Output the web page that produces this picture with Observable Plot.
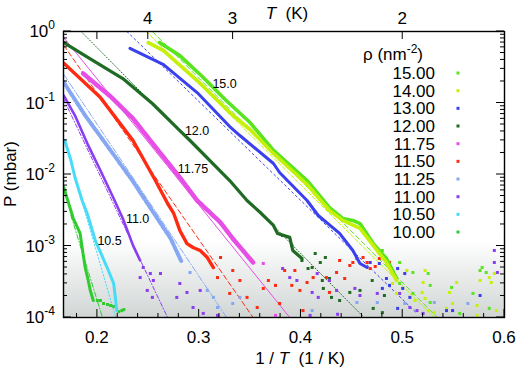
<!DOCTYPE html>
<html><head><meta charset="utf-8">
<script src="https://cdn.jsdelivr.net/npm/d3@7"></script>
<script src="https://cdn.jsdelivr.net/npm/@observablehq/plot@0.6"></script>
<style>
body{margin:0;background:#fff;}
#chart{width:516px;height:372px;}
#chart svg{font-family:"Liberation Sans",Arial,Helvetica,sans-serif;}
</style></head><body><div id="chart"></div>
<script>
// ---- axes / scales ----
const xDomain = [0.1667, 0.6];
const yDomain = [1e-4, 1];
const xMajorTicks = [0.2, 0.3, 0.4, 0.5, 0.6];
const xMajorLabels = ["0.2", "0.3", "0.4", "0.5", "0.6"];
const xMinorTicks = [0.18,0.22,0.24,0.26,0.28,0.32,0.34,0.36,0.38,0.42,0.44,0.46,0.48,0.52,0.54,0.56,0.58];
const yDecades = [1, 0.1, 0.01, 0.001, 0.0001];
const yExponents = ["0", "-1", "-2", "-3", "-4"];
const tTicks = [5, 4, 3, 2];
const tLabels = ["", "4", "3", "2"];
const greyBand = [1e-4, 1.2e-3];

// ---- series ----
const rhoLabels = ["15.00","14.00","13.00","12.00","11.75","11.50","11.25","11.00","10.50","10.00"];

const curve1500 = [[0.261,0.70],[0.281,0.46],[0.303,0.235],[0.326,0.110],[0.350,0.0533],[0.373,0.0217],[0.406,0.00824],[0.428,0.00345],[0.441,0.00243],[0.451,0.00228],[0.458,0.00206],[0.471,0.00108],[0.484,0.000668],[0.494,0.000351]];
const curve1400 = [[0.250,0.70],[0.265,0.54],[0.298,0.206],[0.330,0.0736],[0.350,0.0426],[0.373,0.0197],[0.406,0.00725],[0.428,0.00314],[0.441,0.00228],[0.458,0.00176],[0.471,0.00102],[0.484,0.000588],[0.494,0.000329]];
const curve1300 = [[0.232,0.58],[0.265,0.345],[0.298,0.140],[0.330,0.0469],[0.340,0.0351],[0.373,0.01425],[0.379,0.01067],[0.406,0.00433],[0.417,0.00267],[0.438,0.00150],[0.451,0.000865],[0.458,0.000569],[0.465,0.000500]];
const curve1200 = [[0.167,0.70],[0.191,0.43],[0.225,0.220],[0.254,0.0984],[0.281,0.0412],[0.291,0.0299],[0.330,0.00824],[0.347,0.00433],[0.360,0.00294],[0.373,0.00194],[0.377,0.00150],[0.389,0.00132],[0.392,0.000865],[0.401,0.000668]];
const curve1175 = [[0.186,0.259],[0.213,0.123],[0.235,0.0607],[0.252,0.0299],[0.281,0.00908],[0.298,0.00433],[0.321,0.00213],[0.333,0.00127],[0.343,0.000865],[0.353,0.000588]];
const curve1150 = [[0.167,0.36],[0.203,0.119],[0.235,0.0299],[0.257,0.00824],[0.269,0.00393],[0.275,0.00285],[0.281,0.00165],[0.288,0.00108],[0.294,0.000953],[0.301,0.000865],[0.308,0.000690],[0.314,0.000500]];
const curve1125 = [[0.167,0.194],[0.188,0.0668],[0.213,0.0217],[0.235,0.00798],[0.255,0.00294],[0.272,0.00127],[0.283,0.000588]];
const curve1100 = [[0.167,0.127],[0.178,0.0668],[0.191,0.0255],[0.203,0.01138],[0.216,0.00462],[0.225,0.00243],[0.235,0.00102],[0.242,0.000627]];
const curve1050 = [[0.168,0.0299],[0.174,0.0157],[0.178,0.00908],[0.185,0.00433],[0.190,0.00285],[0.198,0.00119],[0.210,0.000484],[0.216,0.000299],[0.218,0.000173],[0.219,0.000125]];
const curve1000 = [[0.167,0.00658],[0.176,0.00250],[0.183,0.00150],[0.185,0.000953],[0.188,0.000500],[0.191,0.000329],[0.193,0.000239],[0.196,0.000173]];

const noise1500 = [[0.480,0.000865],[0.497,0.000588],[0.510,0.000426],[0.525,0.000412],[0.527,0.000281],[0.510,0.000217],[0.527,0.000162],[0.548,0.000263],[0.569,0.000217],[0.576,0.000454],[0.578,0.000500],[0.582,0.000426],[0.585,0.000134],[0.556,0.000114],[0.497,0.000299]];
const noise1400 = [[0.504,0.000454],[0.522,0.000454],[0.520,0.000309],[0.519,0.000224],[0.522,0.000185],[0.512,0.000173],[0.525,0.000125],[0.494,0.000217],[0.490,0.000299],[0.546,0.000224],[0.553,0.000309],[0.549,0.000157],[0.573,0.000147],[0.576,0.000329],[0.585,0.000362],[0.587,0.000309],[0.590,0.000412],[0.592,0.000125],[0.573,0.000107],[0.531,0.000117],[0.543,0.000134]];
const noise1300 = [[0.468,0.000588],[0.477,0.000569],[0.484,0.000351],[0.480,0.000255],[0.487,0.000281],[0.502,0.000412],[0.500,0.000255],[0.507,0.000191],[0.495,0.000134],[0.543,0.000125],[0.549,0.000125],[0.576,0.000203],[0.495,0.000484]];
const noise1200 = [[0.382,0.00140],[0.391,0.00102],[0.407,0.000484],[0.414,0.000785],[0.419,0.000588],[0.421,0.000329],[0.424,0.000690],[0.428,0.000351],[0.430,0.000191],[0.438,0.000173],[0.448,0.000224],[0.458,0.000239],[0.470,0.000329],[0.471,0.000134],[0.422,0.000255],[0.401,0.000627],[0.482,0.000203],[0.480,0.000117],[0.411,0.000500]];
const noise1175 = [[0.363,0.000569],[0.375,0.000107]];
const noise1150 = [[0.321,0.000690],[0.333,0.000454],[0.340,0.000329],[0.318,0.000362],[0.330,0.000217],[0.347,0.000191],[0.357,0.000138],[0.363,0.000255],[0.368,0.000329],[0.375,0.000281],[0.384,0.000454],[0.391,0.000281],[0.394,0.000454],[0.399,0.000239],[0.406,0.000309],[0.412,0.000362],[0.425,0.000362],[0.438,0.000627],[0.448,0.000534],[0.435,0.000426],[0.443,0.000351],[0.428,0.000224],[0.402,0.000125],[0.379,0.000157],[0.451,0.000588],[0.455,0.000668],[0.461,0.000690],[0.465,0.000588],[0.468,0.000484],[0.473,0.000517],[0.477,0.000668],[0.482,0.000648],[0.487,0.000588],[0.490,0.000454]];
const noise1125 = [[0.291,0.000426],[0.308,0.000239],[0.314,0.000191],[0.318,0.000138],[0.333,0.000157],[0.340,0.000191],[0.411,0.000125],[0.455,0.000162],[0.475,0.000162],[0.502,0.000157],[0.531,0.000162],[0.564,0.000157]];
const noise1100 = [[0.245,0.000500],[0.242,0.000362],[0.252,0.000412],[0.255,0.000329],[0.249,0.000239],[0.254,0.000191],[0.262,0.000412],[0.281,0.000299],[0.288,0.000224],[0.278,0.000191],[0.294,0.000138],[0.304,0.000114],[0.318,0.000107],[0.301,0.000239],[0.382,0.000484],[0.389,0.000362],[0.396,0.000329],[0.411,0.000224],[0.417,0.000191],[0.409,0.000107],[0.436,0.000111],[0.453,0.000255],[0.458,0.000203],[0.416,0.000412],[0.428,0.000329],[0.435,0.000239],[0.475,0.000217],[0.497,0.000217],[0.507,0.000138],[0.514,0.000125],[0.520,0.000114],[0.590,0.000865],[0.593,0.000426],[0.590,0.000588]];
const noise1050 = [];
const noise1000 = [[0.200,0.000173],[0.203,0.000173],[0.206,0.000157],[0.210,0.000152],[0.213,0.000147],[0.216,0.000143],[0.221,0.000121],[0.224,0.000125],[0.226,0.000129]];

const fit1500 = [[0.254,1],[0.534,1e-4]];
const fit1400 = [[0.248,1],[0.531,1e-4]];
const fit1300 = [[0.229,1],[0.514,0.000114]];
const fit1200 = [[0.184,1],[0.462,1e-4]];
const fit1175 = [[0.167,0.82],[0.389,1e-4]];
const fit1150 = [[0.167,0.64],[0.353,1e-4]];
const fit1125 = [[0.167,0.25],[0.327,1e-4]];
const fit1100 = [[0.167,0.112],[0.269,1e-4]];
const fit1050 = [[0.176,0.0114],[0.218,1e-4]];
const fit1000 = [[0.174,0.00267],[0.205,1e-4]];

const annoLabels = ["15.0", "12.0", "11.75", "11.0", "10.5"];
const annoX = [0.313, 0.286, 0.279, 0.228, 0.200];
const annoY = [0.187, 0.0412, 0.0121, 0.00235, 0.00119];

// ---- styles ----
const colors = ["#58e41e","#c4f00a","#3a40ee","#1f6b24","#e64ee6","#ff2a12","#86a8f2","#8a3ef0","#46dcf8","#2fcb2f"];
const curveWidths = [3.6, 3.6, 3, 3.2, 4.5, 3.4, 4, 2.6, 3, 3];
const curveDash = ["","","","","4,1.3","","4,2","","",""];
const fitDash = ["5,3","4,2","2,3","1,2","","5,3","6,2,1,2","4,2,1,2","1.5,2","5,2,1,2"];

const curves = [curve1500,curve1400,curve1300,curve1200,curve1175,curve1150,curve1125,curve1100,curve1050,curve1000];
const noises = [noise1500,noise1400,noise1300,noise1200,noise1175,noise1150,noise1125,noise1100,noise1050,noise1000];
const fits = [fit1500,fit1400,fit1300,fit1200,fit1175,fit1150,fit1125,fit1100,fit1050,fit1000];

const FONT = 17;

function background(index, {x, y}, values, dim) {
  const L = dim.marginLeft, R = dim.width - dim.marginRight;
  const g = d3.create("svg:g");
  const grad = g.append("defs").append("linearGradient").attr("id","greyGrad")
    .attr("x1",0).attr("y1",0).attr("x2",0).attr("y2",1);
  grad.append("stop").attr("offset","0%").attr("stop-color","#ffffff");
  grad.append("stop").attr("offset","100%").attr("stop-color","#d1d6d5");
  const y0 = y(greyBand[1]), y1 = y(greyBand[0]);
  g.append("rect").attr("x",L).attr("y",y0).attr("width",R-L).attr("height",y1-y0).attr("fill","url(#greyGrad)");
  return g.node();
}

function axes(index, {x, y}, values, dim) {
  const L = dim.marginLeft, R = dim.width - dim.marginRight, T = dim.marginTop, B = dim.height - dim.marginBottom;
  const g = d3.create("svg:g");
  const t = g.append("g").attr("stroke","#000").attr("stroke-width",1);
  const line = (x1,y1,x2,y2) => t.append("line").attr("x1",x1).attr("y1",y1).attr("x2",x2).attr("y2",y2);
  xMajorTicks.forEach(v => line(x(v),B,x(v),B-8));
  xMinorTicks.forEach(v => line(x(v),B,x(v),B-4));
  tTicks.forEach(v => line(x(1/v),T,x(1/v),T+8));
  yDecades.forEach(v => { line(L,y(v),L+8,y(v)); line(R,y(v),R-8,y(v)); });
  for (let e = -4; e < 0; e++) {
    for (let m = 2; m <= 9; m++) {
      const v = m * Math.pow(10, e);
      line(L,y(v),L+4,y(v)); line(R,y(v),R-4,y(v));
    }
  }
  const tx = g.append("g").attr("fill","#000").attr("font-size",FONT);
  xMajorTicks.forEach((v,i) => tx.append("text").attr("x",x(v)).attr("y",B+26).attr("text-anchor","middle").text(xMajorLabels[i]));
  tTicks.forEach((v,i) => tx.append("text").attr("x",x(1/v)).attr("y",T-7).attr("text-anchor","middle").text(tLabels[i]));
  yDecades.forEach((v,i) => {
    const te = tx.append("text").attr("x",L-8).attr("y",y(v)+6).attr("text-anchor","end");
    te.append("tspan").text("10");
    te.append("tspan").attr("dy",-8).attr("font-size",12).text(yExponents[i]);
  });
  // titles
  const bt = tx.append("text").attr("x",300).attr("y",dim.height-8).attr("text-anchor","middle");
  bt.append("tspan").text("1 / ");
  bt.append("tspan").attr("font-style","italic").text("T");
  bt.append("tspan").text("\u00a0 (1 / K)");
  const tt = tx.append("text").attr("x",287).attr("y",19).attr("text-anchor","middle");
  tt.append("tspan").attr("font-style","italic").text("T");
  tt.append("tspan").text("\u00a0 (K)");
  tx.append("text").attr("transform",`translate(16,${(T+B)/2})rotate(-90)`).attr("text-anchor","middle").text("P (mbar)");
  // legend
  const lg = g.append("g").attr("font-size",FONT);
  const hd = lg.append("text").attr("x",R-111).attr("y",T+29);
  hd.append("tspan").text("\u03c1 (nm");
  hd.append("tspan").attr("dy",-7).attr("font-size",12).text("-2");
  hd.append("tspan").attr("dy",7).text(")");
  rhoLabels.forEach((lab,i) => {
    const cy = T + 42 + i * 17.67;
    lg.append("text").attr("x",R-69).attr("y",cy+6).attr("text-anchor","end").text(lab);
    lg.append("rect").attr("x",R-47.5).attr("y",cy-1.5).attr("width",3).attr("height",3).attr("fill",colors[i]);
  });
  return g.node();
}

const marks = [background];
fits.forEach((f,i) => marks.push(Plot.line(f, {x: d=>d[0], y: d=>d[1], stroke: colors[i], strokeWidth: 1, strokeDasharray: fitDash[i] || null, clip: true})));
noises.forEach((n,i) => marks.push(Plot.dot(n, {x: d=>d[0], y: d=>d[1], fill: colors[i], symbol: "square", r: 1.7, clip: true})));
curves.forEach((c,i) => marks.push(Plot.line(c, {x: d=>d[0], y: d=>d[1], stroke: colors[i], strokeWidth: curveWidths[i], strokeDasharray: curveDash[i] || null, clip: true})));
marks.push(Plot.text(annoLabels, {x: (d,i)=>annoX[i], y: (d,i)=>annoY[i], text: d=>d, textAnchor: "start", fontSize: 12.5, fill: "#000"}));
marks.push(Plot.frame({stroke: "#000", strokeWidth: 1.4}));
marks.push(axes);

const chart = Plot.plot({
  width: 516, height: 372,
  marginLeft: 63, marginRight: 12, marginTop: 31, marginBottom: 55,
  x: {domain: xDomain, axis: null},
  y: {type: "log", domain: yDomain, axis: null},
  style: {background: "#fff", overflow: "visible"},
  marks
});
document.getElementById("chart").append(chart);
</script></body></html>
